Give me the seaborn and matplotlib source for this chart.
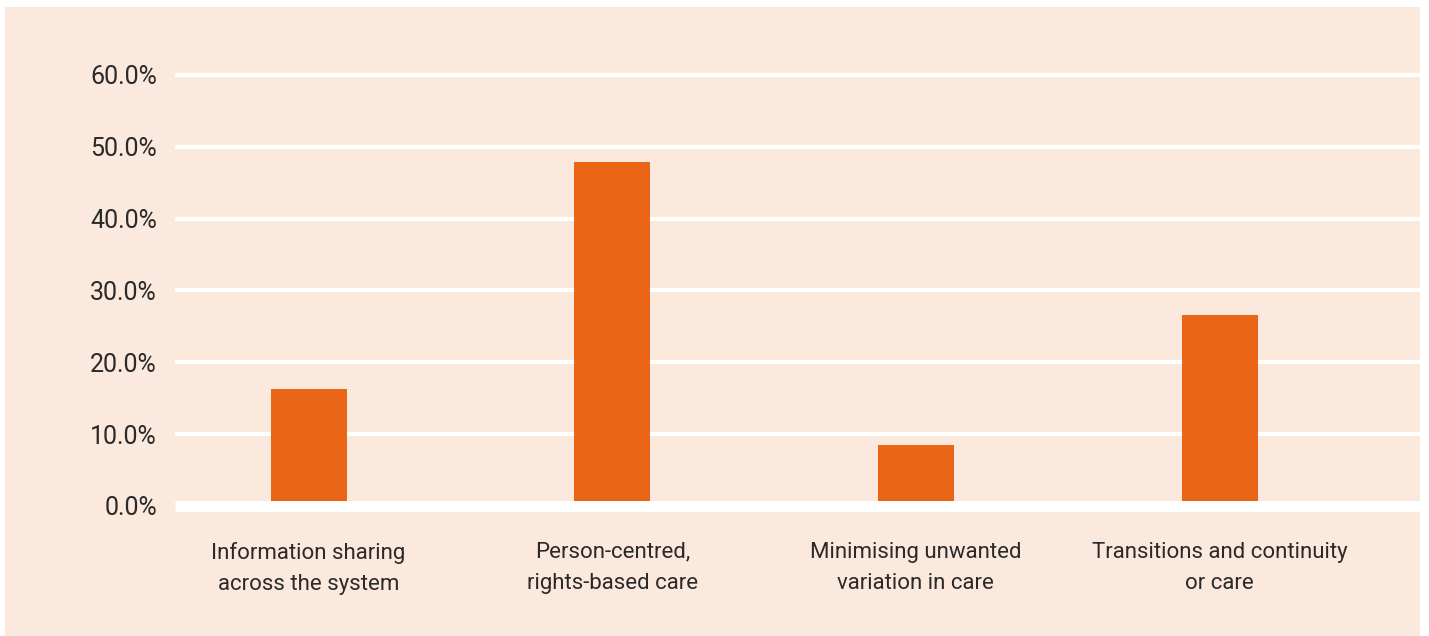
import matplotlib
matplotlib.use("Agg")
import matplotlib.pyplot as plt
import seaborn as sns
import pandas as pd
from matplotlib.patches import Rectangle

categories = ["Information sharing\nacross the system",
              "Person-centred,\nrights-based care",
              "Minimising unwanted\nvariation in care",
              "Transitions and continuity\nor care"]
values = [16.3, 47.9, 8.4, 26.6]
yticks = [0, 10, 20, 30, 40, 50, 60]
ytick_labels = ["0.0%", "10.0%", "20.0%", "30.0%", "40.0%", "50.0%", "60.0%"]

PEACH = "#FCE9DD"
ORANGE = "#EB6516"
TEXT = "#2a2a2a"

sns.set_theme(style="white")
plt.rcParams['font.family'] = ['Roboto', 'DejaVu Sans']

W, H = 1429, 636
fig = plt.figure(figsize=(W / 100, H / 100), dpi=100)
fig.patch.set_facecolor("white")
fig.patches.append(Rectangle((5 / W, 0), (1420 - 5) / W, (636 - 7) / H,
                             transform=fig.transFigure, facecolor=PEACH,
                             edgecolor="none", zorder=-10))

left, right = 175 / W, 1420 / W
bottom, top = (H - 505.8) / H, (H - 75) / H
ax = fig.add_axes([left, bottom, right - left, top - bottom])
ax.set_facecolor("none")

df = pd.DataFrame({"cat": categories, "val": values})
sns.barplot(data=df, x="cat", y="val", color=ORANGE, width=0.25,
            saturation=1, linewidth=0, edgecolor="none", ax=ax, zorder=2)

ax.set_xlim(-0.44, 3.66)
ax.set_ylim(0, 60)
for v in yticks:
    if v == 0:
        ax.axhline(v, color="white", lw=7.9, zorder=3, clip_on=False,
                   solid_capstyle="butt")
    else:
        ax.axhline(v, color="white", lw=2.9, zorder=1, clip_on=False,
                   solid_capstyle="butt")

for s in ax.spines.values():
    s.set_visible(False)
ax.set_yticks(yticks)
ax.set_yticklabels(ytick_labels, fontsize=18, color=TEXT)
ax.tick_params(axis="y", length=0, pad=13)
ax.tick_params(axis="x", length=0, pad=26)
ax.set_xticks(range(len(categories)))
ax.set_xticklabels(categories, fontsize=16, color=TEXT, linespacing=1.65)
ax.set_xlabel("")
ax.set_ylabel("")

fig.savefig("out.png", dpi=100, facecolor="white")
